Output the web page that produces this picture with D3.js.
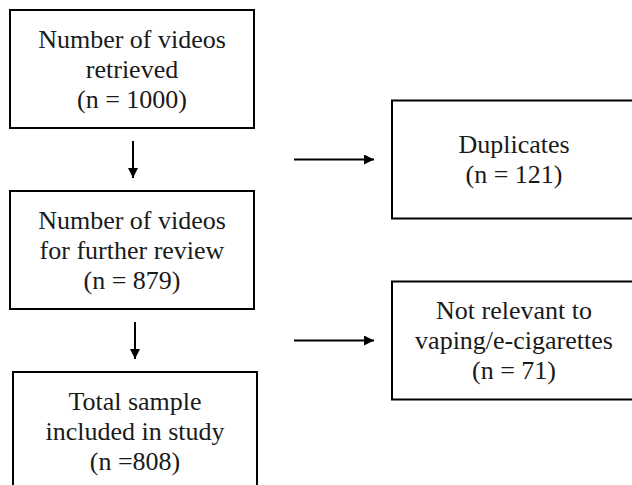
<!DOCTYPE html>
<html>
<head>
<meta charset="utf-8">
<script src="https://cdn.jsdelivr.net/npm/d3@7"></script>
</head>
<body style="margin:0">
<svg id="chart" width="632" height="485"></svg>
<script>
// ===== DATOS =====
const pasos = [
  ["Number of videos", "retrieved"],
  ["Number of videos", "for further review"],
  ["Total sample", "included in study"]
];
const pasosN = ["(n = 1000)", "(n = 879)", "(n =808)"];

const excluidos = [
  ["Duplicates"],
  ["Not relevant to", "vaping/e-cigarettes"]
];
const excluidosN = ["(n = 121)", "(n = 71)"];

// ===== LAYOUT =====
const boxH = 118;
const lineH = 30;
const fontSize = 26;
const fuente = "'Liberation Serif', 'Times New Roman', Times, 'DejaVu Serif', serif";

const svg = d3.select("#chart");

const defs = svg.append("defs");
defs.append("marker")
  .attr("id", "punta")
  .attr("viewBox", "0 0 10 10")
  .attr("refX", 10).attr("refY", 5)
  .attr("markerWidth", 10).attr("markerHeight", 10)
  .attr("markerUnits", "userSpaceOnUse")
  .attr("orient", "auto")
  .append("path")
  .attr("d", "M0,0L10,5L0,10Z")
  .attr("fill", "#000");

// filas de la columna izquierda
const yFila = d3.scaleLinear().domain([0, pasos.length - 1]).range([10, 372]);
const xIzq = d3.scaleLinear().domain([0, 1]).range([10, 254]);
const xDer = d3.scaleLinear().domain([0, 1]).range([392, 636]);

function dibujarCaja(x0, x1, y0, lineas) {
  svg.append("rect")
    .attr("x", x0).attr("y", y0)
    .attr("width", x1 - x0).attr("height", boxH)
    .attr("fill", "none")
    .attr("stroke", "#000")
    .attr("stroke-width", 2);

  const cx = (x0 + x1) / 2;
  const cy = y0 + boxH / 2;
  const offset = (lineas.length - 1) / 2;
  svg.selectAll(null)
    .data(lineas)
    .enter()
    .append("text")
    .attr("x", cx)
    .attr("y", (d, i) => cy + (i - offset) * lineH)
    .attr("dy", "0.33em")
    .attr("text-anchor", "middle")
    .attr("font-family", fuente)
    .attr("font-size", fontSize)
    .attr("fill", "#1a1a1a")
    .text(d => d);
}

// cajas principales
pasos.forEach((p, i) => {
  const dx = i === 2 ? 3 : 0;
  dibujarCaja(xIzq(0) + dx, xIzq(1) + dx, yFila(i), p.concat([pasosN[i]]));
});

// flechas verticales
d3.range(pasos.length - 1).forEach(i => {
  const x = i === 0 ? 133 : 135;
  svg.append("line")
    .attr("x1", x).attr("x2", x)
    .attr("y1", yFila(i) + boxH + 13)
    .attr("y2", yFila(i + 1) - 13)
    .attr("stroke", "#000")
    .attr("stroke-width", 2)
    .attr("marker-end", "url(#punta)");
});

// cajas de exclusión y flechas horizontales
excluidos.forEach((e, i) => {
  const cy = (yFila(i) + yFila(i + 1)) / 2 + boxH / 2;
  dibujarCaja(xDer(0), xDer(1), cy - boxH / 2, e.concat([excluidosN[i]]));

  svg.append("line")
    .attr("x1", 294).attr("x2", 374)
    .attr("y1", cy).attr("y2", cy)
    .attr("stroke", "#000")
    .attr("stroke-width", 2)
    .attr("marker-end", "url(#punta)");
});
</script>
</body>
</html>
